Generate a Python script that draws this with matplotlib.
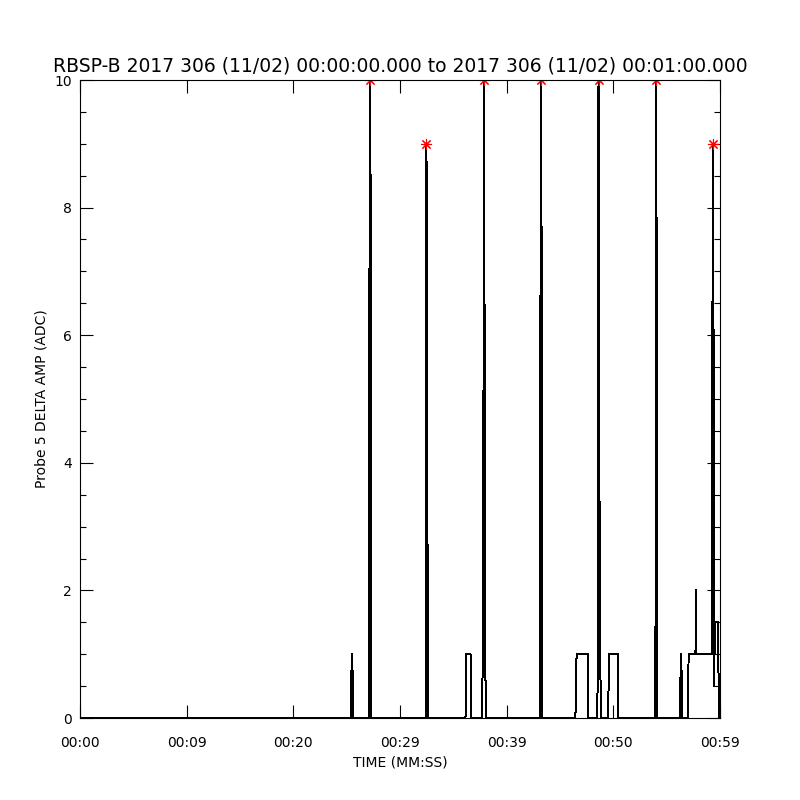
#Probe 5 delta amplitude, RBSP-B, one minute of data

import numpy as np
import matplotlib
matplotlib.use("Agg")
import matplotlib.pyplot as plt
from matplotlib.ticker import MultipleLocator


#-----------------------------------------------------------------------#
#Data (time in seconds, amplitude in ADC)
#-----------------------------------------------------------------------#

timeSec = [0.00, 25.38, 25.41, 25.50, 25.59, 25.62,
           27.09, 27.14, 27.19, 27.28, 27.31,
           32.41, 32.43, 32.48, 32.55, 32.60, 32.63, 32.65,
           36.14, 36.16, 36.17, 36.61, 36.64, 36.70,
           37.72, 37.73, 37.80, 37.88, 37.97, 38.03,
           43.13, 43.17, 43.22, 43.29, 43.34,
           46.45, 46.47, 46.56, 47.65, 47.67,
           48.50, 48.52, 48.56, 48.61, 48.64, 48.70, 48.80, 48.82,
           49.53, 49.55, 49.62, 50.47, 50.48,
           53.91, 53.93, 53.98, 54.03, 54.09, 54.12,
           56.25, 56.28, 56.34, 56.44, 56.48,
           57.03, 57.05, 57.70, 57.73, 57.75, 57.78, 59.22, 59.27, 59.34,
           59.41, 59.44, 59.47, 59.50, 59.80, 59.83, 59.88, 59.92]

ampADC = [0, 0, 0.5, 1, 0.5, 0,
          0, 7, 10, 7, 0,
          0, 0.5, 9, 5, 1, 0.5, 0,
          0, 0.5, 1, 1, 0.5, 0,
          0, 0.5, 2.5, 10, 2.5, 0,
          0, 6.5, 10, 6.5, 0,
          0, 0.5, 1, 1, 0,
          0, 0.5, 3.5, 10, 8.5, 3.5, 0.5, 0,
          0, 0.5, 1, 1, 0,
          0, 0.5, 2.5, 10, 2.5, 0,
          0, 0.5, 1, 0.5, 0,
          0, 1, 1, 1.5, 2, 1, 1, 5, 9,
          5, 1, 0.5, 1.5, 1.5, 1, 0.5, 0]

#peaks marked with red asterisks
peakTime = [27.19, 32.48, 37.88, 43.22, 48.61, 54.03, 59.34]
peakAmp = [10, 9, 10, 10, 10, 10, 9]

tickPos = [0, 10, 20, 30, 40, 50, 60]
tickLabels = ['00:00', '00:09', '00:20', '00:29', '00:39', '00:50', '00:59']

title = 'RBSP-B 2017 306 (11/02) 00:00:00.000 to 2017 306 (11/02) 00:01:00.000'


#-----------------------------------------------------------------------#
#Plot
#-----------------------------------------------------------------------#

fig = plt.figure(figsize=(8, 8), dpi=100)
ax = fig.add_axes([0.1, 0.1025, 0.8, 0.7975])

ax.plot(timeSec, ampADC, color='black', linewidth=0.72, antialiased=False)
ax.plot(peakTime, peakAmp, linestyle='none', marker=(8, 2, 0),
        markersize=8, markeredgecolor='red', markeredgewidth=0.8, color='red')

ax.set_xlim(0, 60)
ax.set_ylim(0, 10)
ax.set_xticks(tickPos)
ax.set_xticklabels(tickLabels)
ax.yaxis.set_major_locator(MultipleLocator(2))
ax.yaxis.set_minor_locator(MultipleLocator(0.5))

ax.tick_params(which='both', direction='in', top=True, right=True,
               labelsize=10, width=0.8)
ax.tick_params(which='major', length=9.5)
ax.tick_params(axis='x', which='major', pad=13)
ax.tick_params(axis='y', which='major', pad=6)
ax.tick_params(which='minor', length=4.5)
for spine in ax.spines.values():
    spine.set_linewidth(0.8)

ax.set_title(title, fontsize=13.5, pad=6)
ax.set_xlabel('TIME (MM:SS)', fontsize=10, labelpad=4)
ax.set_ylabel('Probe 5 DELTA AMP (ADC)', fontsize=10, labelpad=4)

fig.savefig("out.png", dpi=100)
